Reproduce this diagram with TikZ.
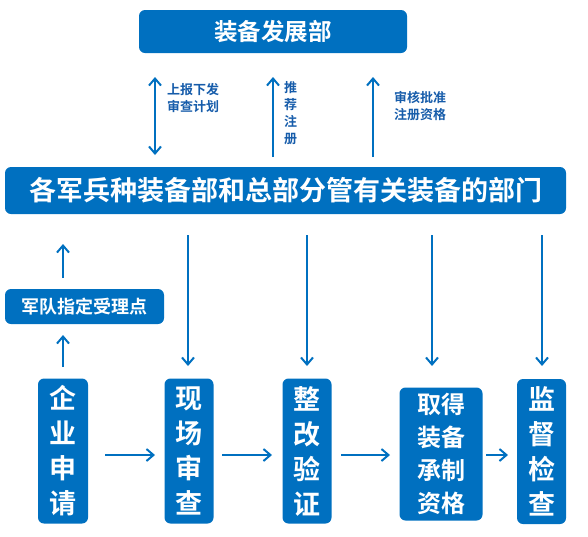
\documentclass[tikz,border=0pt]{standalone}
\usepackage{fontspec}
\setmainfont{Noto Sans CJK SC}[BoldFont={Noto Sans CJK SC Bold}]
\newfontfamily\cjkb{Noto Sans CJK SC Bold}
\usetikzlibrary{arrows.meta}
\definecolor{mblue}{RGB}{0,112,192}
\definecolor{tblue}{RGB}{22,92,170}
\tikzset{
  box/.style={fill=mblue,draw=none,rounded corners=6pt,text=white,font=\cjkb,inner sep=0pt},
  vbox/.style={box,font=\cjkb\fontsize{27}{35}\selectfont,align=center},
  arr/.style={draw=mblue,line width=2pt,-{Straight Barb[length=7pt,width=12pt,line width=2pt]}},
  darr/.style={draw=mblue,line width=2pt,{Straight Barb[length=7pt,width=12pt,line width=2pt]}-{Straight Barb[length=7pt,width=12pt,line width=2pt]}},
  lbl/.style={text=tblue,font=\cjkb\fontsize{13}{17}\selectfont,align=left,inner sep=0pt},
}
\begin{document}
\begin{tikzpicture}[x=1pt,y=-1pt]
\useasboundingbox (0,0) rectangle (588,536);
% top box
\node[box,minimum width=268pt,minimum height=43pt,font=\cjkb\fontsize{23.5}{26}\selectfont] (top) at (273,31.5) {装备发展部};
% wide bar
\node[box,minimum width=561pt,minimum height=47pt,font=\cjkb\fontsize{27}{30}\selectfont] (bar) at (285.5,190.5) {各军兵种装备部和总部分管有关装备的部门};
% small box
\node[box,minimum width=159pt,minimum height=35pt,font=\cjkb\fontsize{18}{20}\selectfont] (rec) at (84.5,306.5) {军队指定受理点};
% bottom boxes
\node[vbox,minimum width=50pt,minimum height=145pt] (b1) at (63,451) {企\\业\\申\\请};
\node[vbox,minimum width=49pt,minimum height=145pt] (b2) at (189,451) {现\\场\\审\\查};
\node[vbox,minimum width=49pt,minimum height=145pt] (b3) at (307,451) {整\\改\\验\\证};
\node[vbox,minimum width=83pt,minimum height=133pt,font=\cjkb\fontsize{24}{33}\selectfont] (b4) at (441,454) {取得\\装备\\承制\\资格};
\node[vbox,minimum width=49pt,minimum height=145pt] (b5) at (541.5,451.5) {监\\督\\检\\查};
% coordinates for arrows between top and bar
\coordinate (t1) at (155,77);  \coordinate (u1) at (155,155);
\coordinate (t2) at (273,77);  \coordinate (u2) at (273,157);
\coordinate (t3) at (373,77);  \coordinate (u3) at (373,157);
\draw[darr] (t1) -- (u1);
\draw[arr] (u2) -- (t2);
\draw[arr] (u3) -- (t3);
\node[lbl,anchor=north west] (l1) at (167,83) {上报下发\\审查计划};
\node[lbl,anchor=north west] (l2) at (284,81) {推\\荐\\注\\册};
\node[lbl,anchor=north west] (l3) at (394,91) {审核批准\\注册资格};
% left arrows
\coordinate (a1) at (63,278); \coordinate (a2) at (63,244);
\coordinate (a3) at (63,367); \coordinate (a4) at (63,335);
\draw[arr] (a1) -- (a2);
\draw[arr] (a3) -- (a4);
% down arrows
\foreach \x/\n in {188/c1,307/c2,432/c3,542/c4}{
  \coordinate (\n s) at (\x,235);
  \coordinate (\n e) at (\x,366);
  \draw[arr] (\n s) -- (\n e);
}
% horizontal arrows
\coordinate (h1) at (105,455); \coordinate (h2) at (155,455);
\coordinate (h3) at (222,455); \coordinate (h4) at (272,455);
\coordinate (h5) at (341,455); \coordinate (h6) at (390,455);
\coordinate (h7) at (486,455); \coordinate (h8) at (508,455);
\draw[arr] (h1) -- (h2);
\draw[arr] (h3) -- (h4);
\draw[arr] (h5) -- (h6);
\draw[arr] (h7) -- (h8);
\end{tikzpicture}
\end{document}
